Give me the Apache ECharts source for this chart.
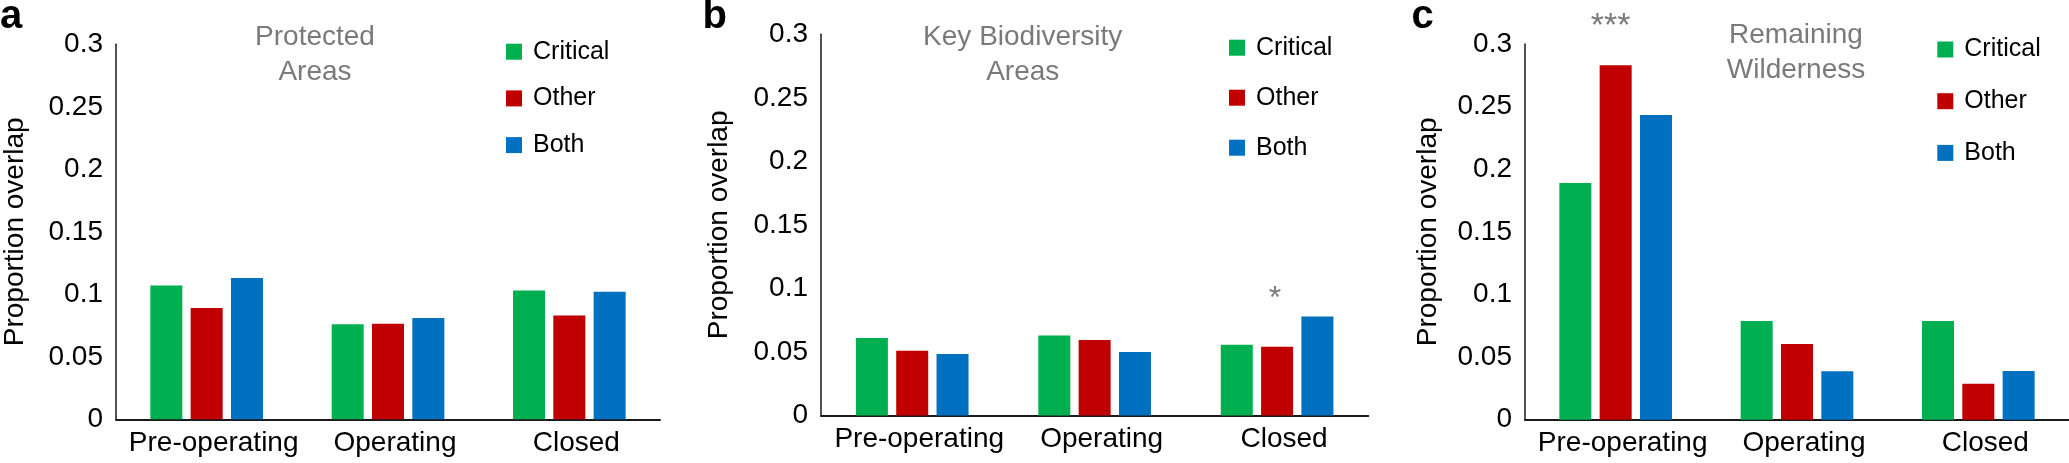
<!DOCTYPE html>
<html><head><meta charset="utf-8">
<script src="https://cdn.jsdelivr.net/npm/echarts@6/dist/echarts.min.js"></script>
<style>html,body{margin:0;padding:0;background:#fff}#c{width:2069px;height:463px}</style>
</head><body><div id="c"></div>
<script>
// ---- data ----
const categories = ['Pre-operating', 'Operating', 'Closed'];
const seriesNames = ['Critical', 'Other', 'Both'];
const yTicks = [0, 0.05, 0.1, 0.15, 0.2, 0.25, 0.3];
const panelTitles = ['Protected\nAreas', 'Key Biodiversity\nAreas', 'Remaining\nWilderness'];
const panelLetters = ['a', 'b', 'c'];
const yAxisName = 'Proportion overlap';

// panel a: Protected Areas
const paCritical = [0.107, 0.076, 0.103];
const paOther    = [0.089, 0.0765, 0.083];
const paBoth     = [0.113, 0.081, 0.102];
// panel b: Key Biodiversity Areas
const pbCritical = [0.061, 0.063, 0.0557];
const pbOther    = [0.051, 0.0594, 0.0541];
const pbBoth     = [0.0484, 0.050, 0.078];
// panel c: Remaining Wilderness
const pcCritical = [0.189, 0.0788, 0.0788];
const pcOther    = [0.283, 0.0605, 0.0288];
const pcBoth     = [0.2434, 0.0387, 0.0389];
// significance markers per category
const paSignif = ['', '', ''];
const pbSignif = ['', '', '*'];
const pcSignif = ['***', '', ''];

const panelData = [
  [paCritical, paOther, paBoth],
  [pbCritical, pbOther, pbBoth],
  [pcCritical, pcOther, pcBoth]
];
const panelSignif = [paSignif, pbSignif, pcSignif];

// ---- styling / layout ----
const colors = ['#00B050', '#C00000', '#0070C0'];
const FONT = '"Liberation Sans", Arial, Helvetica, sans-serif';
const GREY = '#7a7a7a';
const layouts = [
  { grid: {left: 115.7, top: 44.3, width: 544.3, height: 375}, legend: {left: 506, top: 39.2, gap: 21.7},
    title: {x: 315, y: 54.5}, letter: {x: 0}, nameGap: 87, sig: {size: 32, dist: 30, off: [0, 0]} },
  { grid: {left: 821, top: 34.3, width: 547.3, height: 381.2}, legend: {left: 1229, top: 35.2, gap: 25},
    title: {x: 1022.7, y: 54.5}, letter: {x: 702.5}, nameGap: 88, sig: {size: 32, dist: 31.8, off: [-2, 0]} },
  { grid: {left: 1525, top: 44, width: 544, height: 375.7}, legend: {left: 1937.3, top: 37, gap: 26.7},
    title: {x: 1796, y: 52.8}, letter: {x: 1411.5}, nameGap: 83, sig: {size: 34, dist: 21.5, off: [-5, 0]} }
];

const grid = [], xAxis = [], yAxis = [], series = [], legend = [], graphic = [];
layouts.forEach((L, p) => {
  grid.push(Object.assign({containLabel: false}, L.grid));
  xAxis.push({
    type: 'category', gridIndex: p, data: categories,
    axisLine: {show: true, lineStyle: {color: '#1a1a1a', width: 2}},
    axisTick: {show: false},
    axisLabel: {fontSize: 28, color: '#000', fontFamily: FONT, margin: 10, padding: [0, 0, 0, 14], interval: 0}
  });
  yAxis.push({
    type: 'value', gridIndex: p, min: yTicks[0], max: yTicks[yTicks.length - 1], interval: yTicks[1] - yTicks[0],
    axisLine: {show: true, lineStyle: {color: '#1a1a1a', width: 1.5}},
    axisTick: {show: false}, splitLine: {show: false},
    axisLabel: {fontSize: 28, color: '#000', fontFamily: FONT, margin: 13,
      formatter: v => String(+(+v).toFixed(2))},
    name: yAxisName, nameLocation: 'middle', nameGap: L.nameGap,
    nameTextStyle: {fontSize: 28, color: '#000', fontFamily: FONT}
  });
  panelData[p].forEach((vals, s) => {
    const data = vals.map((v, k) => {
      const mark = panelSignif[p][k];
      if (s === 1 && mark) {
        return {value: v, label: {show: true, position: 'top', distance: L.sig.dist, offset: L.sig.off,
          formatter: mark, color: GREY, fontSize: L.sig.size, lineHeight: L.sig.size, fontFamily: FONT}};
      }
      return v;
    });
    series.push({
      type: 'bar', name: seriesNames[s], xAxisIndex: p, yAxisIndex: p, data,
      barWidth: 32, barGap: '26%', itemStyle: {color: colors[s]},
      emphasis: {disabled: true}, animation: false
    });
  });
  legend.push({
    orient: 'vertical', left: L.legend.left, top: L.legend.top, padding: 0,
    itemGap: L.legend.gap, itemWidth: 16, itemHeight: 16, icon: 'rect',
    data: seriesNames,
    textStyle: {fontSize: 25, color: '#000', fontFamily: FONT, lineHeight: 25, padding: [0, 0, 0, 6]}
  });
  graphic.push({
    type: 'text', x: L.title.x, y: L.title.y, silent: true,
    style: {text: panelTitles[p], fill: GREY, fontSize: 28, fontFamily: FONT,
      align: 'center', textAlign: 'center', verticalAlign: 'middle', textVerticalAlign: 'middle', lineHeight: 35}
  });
  graphic.push({
    type: 'text', x: L.letter.x, y: 16.6, silent: true,
    style: {text: panelLetters[p], fill: '#000', fontSize: 40, fontWeight: 'bold', fontFamily: FONT,
      align: 'left', textAlign: 'left', verticalAlign: 'middle', textVerticalAlign: 'middle'}
  });
});

const chart = echarts.init(document.getElementById('c'), null, {renderer: 'canvas'});
chart.setOption({
  backgroundColor: '#fff', animation: false,
  textStyle: {fontFamily: FONT},
  grid, xAxis, yAxis, series, legend, graphic
});
</script></body></html>
